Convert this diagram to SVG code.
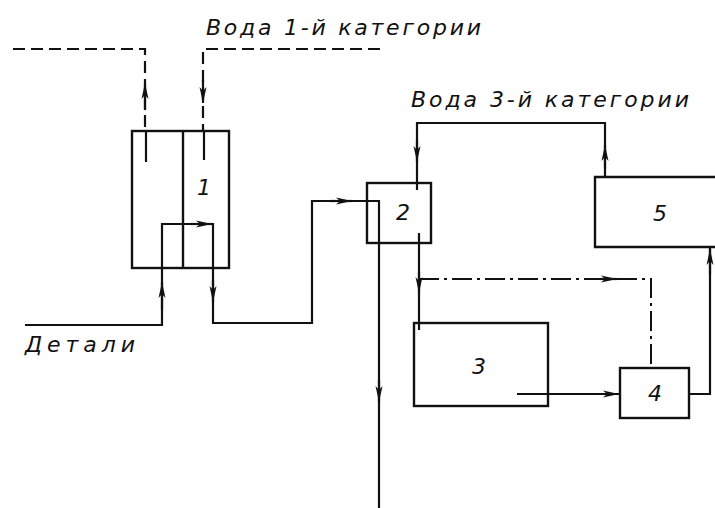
<svg xmlns="http://www.w3.org/2000/svg" width="715" height="508" viewBox="0 0 715 508">
<defs>
<marker id="arr" viewBox="0 0 16 8" refX="16" refY="4" markerWidth="16" markerHeight="8" markerUnits="userSpaceOnUse" orient="auto">
<path d="M0,0.5 L16,4 L0,7.5 L4,4 Z" fill="#111"/>
</marker>
</defs>
<style>
.box{fill:none;stroke:#111;stroke-width:2.4}
.ln{fill:none;stroke:#111;stroke-width:2.2}
.dash{fill:none;stroke:#111;stroke-width:2.2;stroke-dasharray:12 6}
.dd{fill:none;stroke:#111;stroke-width:2;stroke-dasharray:20 5 3 5}
.lbl{font-family:"DejaVu Sans","Liberation Sans",sans-serif;font-style:italic;font-size:22px;fill:#111}
.num{font-family:"DejaVu Sans","Liberation Sans",sans-serif;font-style:italic;font-size:22px;fill:#111;text-anchor:middle}
</style>
<rect width="715" height="508" fill="#fff"/>
<g id="connectors">
<path class="dash" d="M13,49 H145 V131"/>
<line class="ln" x1="145" y1="110" x2="145" y2="83" marker-end="url(#arr)"/>
<path class="dash" d="M380,49 H203 V131"/>
<line class="ln" x1="203" y1="80" x2="203" y2="103" marker-end="url(#arr)"/>
<line class="ln" x1="146" y1="131" x2="146" y2="162"/>
<line class="ln" x1="204" y1="131" x2="204" y2="160"/>
<path class="ln" d="M25,325 H162 V224 H213 V323 H312 V201 H379 V508"/>
<line class="ln" x1="162" y1="310" x2="162" y2="282" marker-end="url(#arr)"/>
<line class="ln" x1="190" y1="224" x2="212" y2="224" marker-end="url(#arr)"/>
<line class="ln" x1="213" y1="280" x2="213" y2="302" marker-end="url(#arr)"/>
<line class="ln" x1="330" y1="201" x2="352" y2="201" marker-end="url(#arr)"/>
<line class="ln" x1="379" y1="380" x2="379" y2="402" marker-end="url(#arr)"/>
<path class="ln" d="M605,177 V123 H417 V190"/>
<line class="ln" x1="417" y1="140" x2="417" y2="162" marker-end="url(#arr)"/>
<line class="ln" x1="605" y1="168" x2="605" y2="145" marker-end="url(#arr)"/>
<path class="ln" d="M419,233 V330"/>
<line class="ln" x1="419" y1="272" x2="419" y2="293" marker-end="url(#arr)"/>
<path class="dd" d="M419,279 H651 V368"/>
<line class="ln" x1="600" y1="279" x2="617" y2="279" marker-end="url(#arr)"/>
<line class="ln" x1="517" y1="394" x2="619" y2="394" marker-end="url(#arr)"/>
<path class="ln" d="M689,394 H710 V248"/>
<line class="ln" x1="710" y1="275" x2="710" y2="249" marker-end="url(#arr)"/>
</g>
<g id="node1">
<rect class="box" x="132" y="131" width="97" height="137"/>
<line class="box" x1="183" y1="131" x2="183" y2="268"/>
<text class="num" x="204" y="195">1</text>
</g>
<g id="node2">
<rect class="box" x="367" y="183" width="64" height="60"/>
<text class="num" x="403" y="220">2</text>
</g>
<g id="node3">
<rect class="box" x="414" y="323" width="134" height="83"/>
<text class="num" x="479" y="374">3</text>
</g>
<g id="node4">
<rect class="box" x="620" y="368" width="69" height="50"/>
<text class="num" x="655" y="401">4</text>
</g>
<g id="node5">
<path class="box" d="M720,177 H595 V247 H720"/>
<text class="num" x="660" y="221">5</text>
</g>
<g id="labels">
<text class="lbl" x="206" y="35" textLength="275" lengthAdjust="spacing">Вода  1-й категории</text>
<text class="lbl" x="411" y="107" textLength="278" lengthAdjust="spacing">Вода  3-й категории</text>
<text class="lbl" x="25" y="352" textLength="110" lengthAdjust="spacing">Детали</text>
</g>
</svg>
